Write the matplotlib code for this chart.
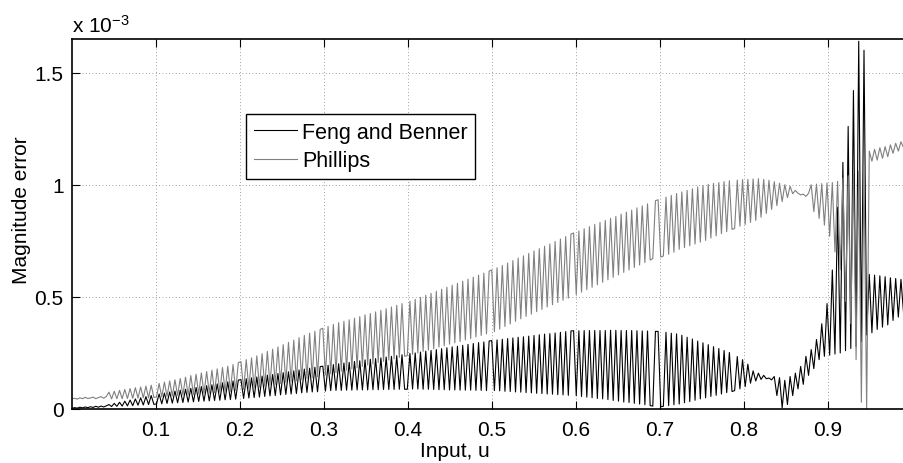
import numpy as np
import matplotlib
matplotlib.use("Agg")
import matplotlib.pyplot as plt

plt.rcParams['font.family'] = ['Liberation Sans', 'DejaVu Sans']
plt.rcParams['mathtext.default'] = 'regular'

# ---- data (magnitude error in units of 1e-6), sampled on a uniform input grid ----
u_start, u_stop, n_samples = 0.0, 0.99, 316

feng_benner = [
    3, 6, 4, 8, 5, 9, 6, 10, 7, 12,
    8, 13, 9, 14, 20, 11, 25, 12, 30, 13,
    35, 14, 40, 15, 45, 17, 50, 18, 55, 20,
    60, 21, 22, 67, 23, 71, 25, 76, 26, 80,
    28, 84, 29, 88, 31, 92, 32, 96, 34, 100,
    35, 104, 36, 108, 38, 112, 39, 117, 41, 121,
    42, 125, 44, 129, 131, 47, 135, 49, 139, 51,
    143, 53, 147, 56, 151, 58, 154, 60, 158, 63,
    162, 65, 166, 67, 170, 69, 174, 72, 178, 74,
    182, 76, 186, 77, 189, 191, 80, 195, 82, 198,
    83, 202, 83, 205, 84, 208, 84, 212, 85, 215,
    85, 219, 85, 222, 86, 225, 86, 228, 87, 232,
    87, 235, 87, 238, 88, 242, 88, 88, 248, 89,
    250, 89, 254, 88, 258, 88, 261, 87, 265, 86,
    269, 86, 273, 85, 277, 85, 280, 84, 284, 84,
    288, 84, 292, 83, 296, 83, 299, 82, 303, 305,
    82, 308, 81, 311, 79, 314, 78, 317, 76, 320,
    75, 322, 73, 325, 72, 328, 70, 331, 69, 334,
    67, 336, 66, 339, 64, 342, 63, 345, 61, 348,
    349, 59, 349, 56, 350, 53, 350, 50, 350, 47,
    350, 45, 350, 42, 351, 38, 351, 35, 350, 31,
    350, 29, 350, 25, 349, 22, 348, 19, 348, 15,
    13, 346, 346, 10, 12, 342, 15, 338, 19, 335,
    22, 329, 28, 320, 33, 312, 39, 303, 45, 295,
    50, 287, 56, 278, 61, 270, 67, 261, 73, 252,
    78, 82, 234, 90, 220, 100, 200, 115, 170, 125,
    160, 132, 150, 135, 138, 130, 145, 60, 140, 5,
    128, 20, 145, 60, 160, 90, 190, 110, 235, 150,
    265, 180, 310, 220, 380, 235, 470, 240, 620, 245,
    900, 250, 1100, 260, 1260, 270, 1420, 280, 1640, 300,
    1600, 330, 600, 340, 597, 355, 594, 365, 590, 375,
    585, 395, 582, 410, 578, 425,
]

phillips = [
    45, 48, 44, 50, 46, 52, 47, 49, 53, 46,
    51, 55, 48, 56, 75, 45, 79, 46, 83, 46,
    87, 47, 91, 48, 95, 49, 98, 50, 102, 50,
    106, 52, 53, 114, 54, 120, 56, 125, 58, 130,
    60, 136, 62, 142, 63, 149, 65, 155, 67, 161,
    69, 167, 71, 173, 73, 179, 75, 185, 77, 191,
    79, 198, 82, 207, 211, 87, 220, 90, 228, 93,
    237, 97, 247, 101, 257, 106, 267, 110, 277, 114,
    287, 118, 297, 122, 307, 126, 318, 131, 328, 135,
    338, 139, 347, 144, 355, 360, 152, 368, 157, 377,
    162, 385, 168, 391, 173, 398, 179, 405, 184, 412,
    190, 420, 196, 426, 201, 433, 207, 440, 212, 447,
    218, 455, 224, 462, 230, 470, 235, 238, 481, 244,
    489, 250, 498, 257, 507, 263, 516, 269, 525, 276,
    534, 282, 543, 289, 552, 295, 561, 301, 570, 308,
    579, 314, 588, 321, 597, 328, 606, 335, 615, 620,
    345, 630, 356, 640, 368, 651, 379, 662, 391, 673,
    402, 683, 413, 694, 423, 705, 434, 715, 444, 726,
    455, 736, 465, 747, 475, 758, 485, 769, 495, 780,
    785, 510, 794, 521, 804, 532, 813, 543, 823, 554,
    832, 565, 841, 576, 850, 587, 859, 598, 869, 609,
    878, 620, 887, 631, 897, 642, 906, 653, 915, 664,
    671, 929, 933, 678, 682, 945, 690, 953, 699, 961,
    712, 968, 720, 975, 728, 982, 736, 990, 744, 997,
    752, 1002, 762, 1006, 772, 1010, 782, 1014, 791, 1018,
    801, 805, 1021, 815, 1023, 823, 1024, 832, 1026, 841,
    1027, 855, 1024, 872, 1020, 890, 1014, 907, 1007, 925,
    1000, 943, 993, 960, 975, 962, 955, 958, 948, 962,
    1000, 880, 1003, 850, 1005, 820, 1008, 770, 1010, 700,
    1015, 620, 1030, 480, 1040, 380, 1050, 220, 1060, 30,
    1070, 0, 1150, 1105, 1158, 1110, 1165, 1118, 1170, 1125,
    1178, 1140, 1185, 1150, 1192, 1165,
]

series_labels = ['Feng and Benner', 'Phillips']
x_ticks = [0.1, 0.2, 0.3, 0.4, 0.5, 0.6, 0.7, 0.8, 0.9]
x_tick_labels = ['0.1', '0.2', '0.3', '0.4', '0.5', '0.6', '0.7', '0.8', '0.9']
y_ticks = [0.0, 0.5e-3, 1.0e-3, 1.5e-3]
y_tick_labels = ['0', '0.5', '1', '1.5']

u = np.linspace(u_start, u_stop, n_samples)
fb = np.array(feng_benner) * 1e-6
ph = np.array(phillips) * 1e-6

W, H = 904, 464
fig = plt.figure(figsize=(W / 100, H / 100), dpi=100)
ax = fig.add_axes([72 / W, 1 - 410 / H, 840 / W, 370 / H])

ax.plot(u, fb, color='black', lw=0.8, label=series_labels[0])
ax.plot(u, ph, color='0.5', lw=0.8, label=series_labels[1])

ax.set_xlim(0, 1.0)
ax.set_ylim(0, 1.65e-3)
ax.set_xticks(x_ticks)
ax.set_xticklabels(x_tick_labels)
ax.set_yticks(y_ticks)
ax.set_yticklabels(y_tick_labels)
ax.tick_params(direction='in', length=6, width=0.8, top=True, right=True,
               labelsize=15, pad=6, colors='black')
ax.tick_params(axis='x', pad=8)
for s in ax.spines.values():
    s.set_linewidth(1.2)
ax.grid(True, linestyle=(0, (1, 3)), color='0.5', lw=0.6)

ax.set_xlabel('Input, u', fontsize=15)
ax.xaxis.set_label_coords((455 - 72) / 840, -(452 - 410) / 370)
ax.xaxis.label.set_va('center')
ax.set_ylabel('Magnitude error', fontsize=15)
ax.yaxis.set_label_coords(-(72 - 22) / 840, (410 - 210) / 370)
ax.yaxis.label.set_va('center')

fig.text(72 / W, 1 - 33 / H, r'x 10$^{-3}$', fontsize=15, ha='left', va='baseline')

leg = ax.legend(loc='upper left', bbox_to_anchor=((246 - 72) / 840, (410 - 115) / 370),
                borderaxespad=0, fontsize=15.5, frameon=True, fancybox=False,
                edgecolor='black', framealpha=1, handlelength=2.0,
                handletextpad=0.25, borderpad=0.35, labelspacing=0.35)
leg.get_frame().set_linewidth(1.0)

fig.savefig('out.png', dpi=100)
